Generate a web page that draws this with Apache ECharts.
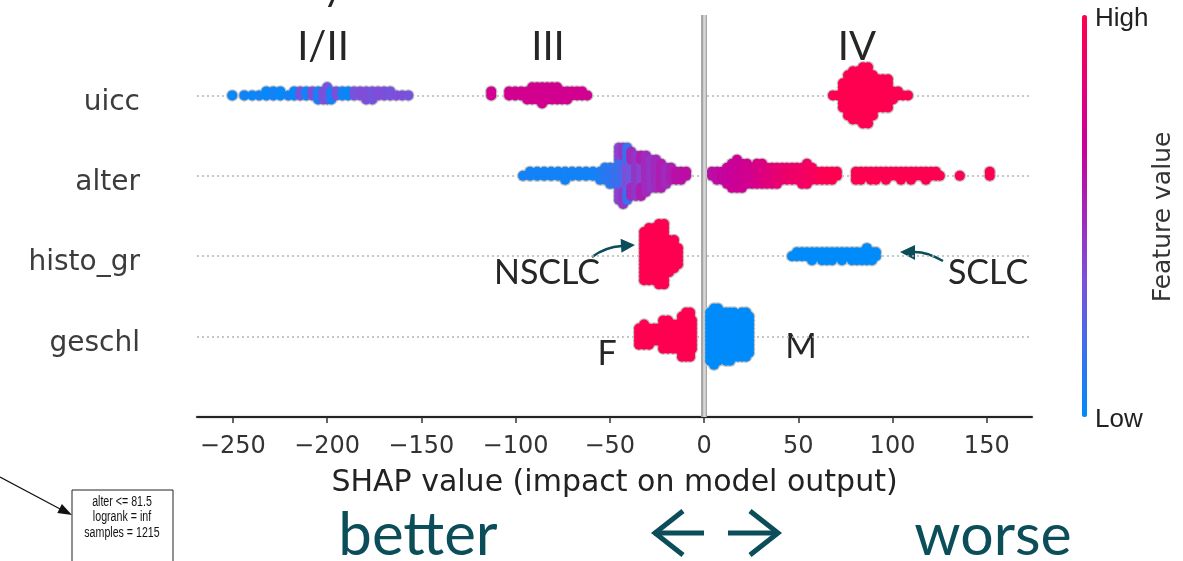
<!DOCTYPE html>
<html>
<head>
<meta charset="utf-8">
<script src="https://cdn.jsdelivr.net/npm/echarts@6/dist/echarts.min.js"></script>
<style>
html, body { margin: 0; padding: 0; background: #fff; }
#main { width: 1183px; height: 561px; }
</style>
</head>
<body>
<div id="main"></div>
<script>
// rows from bottom to top
var featureNames = ['geschl', 'histo_gr', 'alter', 'uicc'];
var tickValues = [-250, -200, -150, -100, -50, 0, 50, 100, 150];

// [shap value, points stacked at that value, feature value 0 (low) .. 1 (high)]
var uicc = [
    [-250.3, 1, 0.02], [-243.9, 1, 0.05], [-239.7, 1, 0.02], [-236.0, 1, 0.05], [-232.2, 2, 0.02],
    [-228.5, 2, 0.05], [-224.8, 2, 0.02], [-220.6, 1, 0.05], [-217.4, 2, 0.02], [-214.2, 2, 0.32],
    [-211.0, 2, 0.05], [-207.8, 2, 0.35], [-204.7, 3, 0.05], [-202.0, 3, 0.35], [-199.9, 4, 0.32],
    [-197.8, 3, 0.05], [-195.1, 2, 0.35], [-191.9, 2, 0.05], [-188.8, 2, 0.02], [-185.6, 2, 0.32],
    [-182.4, 2, 0.35], [-179.2, 3, 0.35], [-176.0, 3, 0.32], [-172.9, 2, 0.35], [-169.7, 2, 0.35],
    [-166.5, 2, 0.32], [-163.3, 1, 0.35], [-160.1, 1, 0.35], [-156.9, 1, 0.32],
    [-112.9, 2, 0.72], [-103.4, 2, 0.72], [-100.2, 2, 0.72], [-97.0, 2, 0.72], [-93.8, 3, 0.72],
    [-91.2, 4, 0.72], [-88.5, 4, 0.72], [-85.9, 5, 0.72], [-83.2, 4, 0.72], [-80.6, 4, 0.72],
    [-77.9, 4, 0.72], [-75.3, 3, 0.72], [-72.6, 3, 0.72], [-70.0, 2, 0.72], [-67.3, 2, 0.72],
    [-64.7, 2, 0.72], [-62.0, 1, 0.72],
    [68.4, 1, 1], [71.0, 1, 1], [73.7, 7, 1], [76.4, 11, 1], [79.0, 13, 1], [81.7, 13, 1],
    [84.3, 15, 1], [87.0, 15, 1], [89.6, 11, 1], [92.3, 8, 1], [94.9, 8, 1], [97.6, 8, 1],
    [100.2, 3, 1], [102.9, 2, 1], [105.5, 1, 1], [108.2, 1, 1]
];

var alter = [
    [-96.0, 1, 0.05], [-92.3, 2, 0.05], [-88.5, 2, 0.05], [-84.8, 2, 0.05], [-81.1, 2, 0.05],
    [-77.4, 2, 0.05], [-73.7, 3, 0.05], [-70.0, 2, 0.05], [-66.3, 2, 0.05], [-62.6, 2, 0.05],
    [-58.9, 2, 0.05], [-55.1, 3, 0.08], [-52.5, 4, 0.1], [-49.8, 5, 0.12], [-47.2, 5, 0.15],
    [-45.1, 8, 0.15], [-45.1, 6, 0.4], [-42.9, 8, 0.2], [-42.9, 7, 0.45], [-40.8, 7, 0.35],
    [-40.8, 7, 0.15], [-38.7, 6, 0.3], [-38.7, 6, 0.5], [-36.1, 11, 0.45], [-33.4, 6, 0.4],
    [-33.4, 5, 0.55], [-30.8, 10, 0.5], [-28.1, 8, 0.45], [-25.5, 8, 0.5], [-22.8, 7, 0.55],
    [-20.1, 5, 0.5], [-17.5, 4, 0.55], [-14.8, 3, 0.6], [-12.2, 3, 0.6], [-9.5, 2, 0.62],
    [4.2, 2, 0.6], [6.9, 3, 0.62], [9.5, 3, 0.65], [12.2, 5, 0.65], [14.8, 7, 0.68],
    [17.5, 8, 0.68], [20.1, 7, 0.7], [22.8, 6, 0.72], [25.5, 5, 0.72], [28.1, 6, 0.75],
    [30.8, 6, 0.78], [33.4, 5, 0.8], [36.1, 5, 0.82], [38.7, 5, 0.85], [41.4, 4, 0.85],
    [44.0, 4, 0.88], [46.7, 4, 0.9], [49.3, 4, 0.9], [52.0, 5, 0.92], [54.6, 6, 0.92],
    [57.3, 4, 0.95], [59.9, 3, 0.95], [62.6, 3, 1], [65.2, 3, 1], [67.9, 3, 1], [70.5, 2, 1],
    [80.6, 3, 1], [83.2, 3, 1], [85.9, 2, 1], [88.5, 3, 1], [91.2, 3, 1], [93.8, 2, 1],
    [96.5, 3, 1], [99.2, 2, 1], [101.8, 2, 1], [104.5, 3, 1], [107.1, 2, 1], [109.8, 3, 1],
    [112.4, 2, 1], [115.1, 2, 1], [117.7, 3, 1], [120.4, 2, 1], [123.0, 2, 1], [125.1, 1, 1],
    [135.7, 1, 1], [151.6, 2, 1]
];

var histoGr = [
    [-31.8, 13, 1], [-29.2, 14, 1], [-26.5, 14, 1], [-23.9, 16, 1], [-21.2, 16, 1],
    [-18.6, 9, 1], [-15.9, 8, 1], [-13.8, 5, 1],
    [46.7, 1, 0], [49.3, 2, 0], [52.0, 2, 0], [54.6, 2, 0], [57.3, 3, 0], [59.9, 2, 0],
    [62.6, 3, 0], [65.2, 3, 0], [67.9, 3, 0], [70.5, 2, 0], [73.2, 3, 0], [75.8, 2, 0],
    [78.5, 3, 0], [81.1, 3, 0], [83.8, 3, 0], [86.4, 4, 0], [89.1, 3, 0], [91.2, 2, 0]
];

var geschl = [
    [-34.5, 5, 1], [-31.8, 6, 1], [-29.2, 5, 1], [-26.5, 4, 1], [-24.4, 4, 1], [-21.7, 8, 1],
    [-19.1, 8, 1], [-16.4, 7, 1], [-14.3, 7, 1], [-11.7, 11, 1], [-9.5, 12, 1], [-7.4, 12, 1],
    [-6.4, 8, 1],
    [3.2, 13, 0], [5.3, 15, 0], [7.4, 14, 0], [9.5, 12, 0], [11.7, 13, 0], [13.8, 13, 0],
    [15.9, 12, 0], [18.0, 11, 0], [20.1, 12, 0], [22.3, 12, 0], [23.9, 10, 0]
];

var rows = [geschl, histoGr, alter, uicc];
var STEP = 0.05;
var teal = '#0b4e5a';

// beeswarm: points sharing a value alternate above / below the row line
function swarm(row, rowIndex) {
    var layers = {};
    var out = [];
    row.forEach(function (d) {
        for (var i = 0; i < d[1]; i++) {
            var k = layers[d[0]] || 0;
            layers[d[0]] = k + 1;
            var off = Math.ceil(k / 2) * (k % 2 ? 1 : -1) * STEP;
            out.push([d[0], rowIndex + off, d[2]]);
        }
    });
    return out;
}

var points = [];
rows.forEach(function (r, i) { points = points.concat(swarm(r, i)); });

function minus(v) { return v < 0 ? '\u2212' + (-v) : String(v); }

var boxFont = '14px "Liberation Sans Narrow", "Liberation Sans"';

var chart = echarts.init(document.getElementById('main'));

chart.setOption({
    animation: false,
    grid: { left: 197, right: 151, top: 15, bottom: 144 },
    xAxis: {
        type: 'value',
        min: -269,
        max: 174,
        splitLine: { show: false },
        axisLine: { onZero: false, lineStyle: { color: '#222', width: 2, shadowColor: 'rgba(0,0,0,0.35)', shadowBlur: 2 } },
        axisTick: { length: 6, customValues: tickValues, lineStyle: { color: '#333', width: 1.5 } },
        axisLabel: {
            customValues: tickValues,
            formatter: minus,
            fontFamily: 'DejaVu Sans',
            fontSize: 24,
            color: '#333',
            margin: 18
        },
        name: 'SHAP value (impact on model output)',
        nameLocation: 'middle',
        nameGap: 51,
        nameTextStyle: { fontFamily: 'DejaVu Sans', fontSize: 30, color: '#222' }
    },
    yAxis: {
        type: 'value',
        min: -1,
        max: 4,
        splitLine: { show: false },
        axisLine: { show: false },
        axisTick: { show: false },
        axisLabel: {
            customValues: [0, 1, 2, 3],
            formatter: function (v) { return featureNames[v]; },
            fontFamily: 'DejaVu Sans',
            fontSize: 28,
            color: '#3c3c3c',
            margin: 57,
            verticalAlign: 'top',
            lineHeight: 14
        }
    },
    visualMap: {
        type: 'continuous',
        min: 0,
        max: 1,
        dimension: 2,
        seriesIndex: 1,
        orient: 'vertical',
        left: 1082,
        top: 15,
        itemWidth: 5,
        itemHeight: 402,
        padding: 0,
        calculable: false,
        hoverLink: false,
        text: null,
        inRange: { color: ['#008bfb', '#7a52dc', '#c8009a', '#ff0051'] }
    },
    series: [{
        // halo under the dots
        type: 'scatter',
        data: points,
        symbolSize: 12.5,
        silent: true,
        z: 2,
        itemStyle: { color: '#c4c4c4', opacity: 1 },
        markLine: {
            silent: true,
            symbol: ['none', 'none'],
            label: { show: false },
            z: 1,
            data: [
                { yAxis: 0, lineStyle: { color: '#b5b5b5', width: 1.5, type: [2, 3] } },
                { yAxis: 1, lineStyle: { color: '#b5b5b5', width: 1.5, type: [2, 3] } },
                { yAxis: 2, lineStyle: { color: '#b5b5b5', width: 1.5, type: [2, 3] } },
                { yAxis: 3, lineStyle: { color: '#b5b5b5', width: 1.5, type: [2, 3] } },
                { xAxis: 0, lineStyle: { color: '#a6a6a6', width: 6, type: 'solid' } },
                { xAxis: 0, lineStyle: { color: '#d6d6d6', width: 2.5, type: 'solid' } }
            ]
        }
    }, {
        type: 'scatter',
        data: points,
        symbolSize: 10,
        silent: true,
        z: 3,
        itemStyle: { opacity: 1 }
    }],
    graphic: [
        { type: 'text', x: 333, y: -13, style: { text: 'y', font: '40px Lato', fill: '#262626', align: 'center', verticalAlign: 'middle' } },
        { type: 'text', x: 323, y: 47, style: { text: 'I/II', font: '40px Lato', fill: '#262626', align: 'center', verticalAlign: 'middle' } },
        { type: 'text', x: 548, y: 47, style: { text: 'III', font: '40px Lato', fill: '#262626', align: 'center', verticalAlign: 'middle' } },
        { type: 'text', x: 857, y: 47, style: { text: 'IV', font: '40px Lato', fill: '#262626', align: 'center', verticalAlign: 'middle' } },
        { type: 'text', x: 547, y: 273, style: { text: 'NSCLC', font: '34px Lato', fill: '#262626', align: 'center', verticalAlign: 'middle' } },
        { type: 'text', x: 988, y: 273, style: { text: 'SCLC', font: '34px Lato', fill: '#262626', align: 'center', verticalAlign: 'middle' } },
        { type: 'text', x: 607, y: 354, style: { text: 'F', font: '34px Lato', fill: '#262626', align: 'center', verticalAlign: 'middle' } },
        { type: 'text', x: 801, y: 347, style: { text: 'M', font: '34px Lato', fill: '#262626', align: 'center', verticalAlign: 'middle' } },

        { type: 'bezierCurve', shape: { x1: 592, y1: 257, cpx1: 605, cpy1: 247, x2: 622, y2: 246 }, style: { stroke: teal, lineWidth: 2.5, fill: null } },
        { type: 'polygon', shape: { points: [[635, 245], [620.6, 238.7], [621.4, 252.7]] }, style: { fill: teal } },
        { type: 'bezierCurve', shape: { x1: 943, y1: 261, cpx1: 926, cpy1: 251, x2: 912, y2: 252 }, style: { stroke: teal, lineWidth: 2.5, fill: null } },
        { type: 'polygon', shape: { points: [[900, 252], [915, 245], [915, 260]] }, style: { fill: teal } },

        { type: 'text', x: 1095, y: 19, style: { text: 'High', font: '26px "Liberation Sans"', fill: '#222', align: 'left', verticalAlign: 'middle' } },
        { type: 'text', x: 1095, y: 420, style: { text: 'Low', font: '26px "Liberation Sans"', fill: '#222', align: 'left', verticalAlign: 'middle' } },
        { type: 'text', x: 1163, y: 217, rotation: Math.PI / 2, style: { text: 'Feature value', font: '25px "DejaVu Sans"', fill: '#333', align: 'center', verticalAlign: 'middle' } },

        { type: 'text', x: 418, y: 536, style: { text: 'better', font: '60px Lato', fill: teal, align: 'center', verticalAlign: 'middle' } },
        { type: 'text', x: 993, y: 536, style: { text: 'worse', font: '59px Lato', fill: teal, align: 'center', verticalAlign: 'middle' } },
        { type: 'polyline', shape: { points: [[654, 533], [704, 533]] }, style: { stroke: teal, lineWidth: 5 } },
        { type: 'polyline', shape: { points: [[683, 511], [655, 533], [683, 555]] }, style: { stroke: teal, lineWidth: 5, fill: null } },
        { type: 'polyline', shape: { points: [[728, 533], [778, 533]] }, style: { stroke: teal, lineWidth: 5 } },
        { type: 'polyline', shape: { points: [[750, 511], [778, 533], [750, 555]] }, style: { stroke: teal, lineWidth: 5, fill: null } },

        { type: 'line', shape: { x1: 0, y1: 477, x2: 62, y2: 510 }, style: { stroke: '#111', lineWidth: 1.2 } },
        { type: 'polygon', shape: { points: [[72, 515], [61.9, 504.1], [57.3, 512.9]] }, style: { fill: '#111' } },
        { type: 'rect', shape: { x: 72, y: 490, width: 101, height: 80 }, style: { stroke: '#222', lineWidth: 1, fill: '#fff' } },
        { type: 'text', x: 122, y: 502, scaleX: 0.76, style: { text: 'alter <= 81.5', font: boxFont, fill: '#111', align: 'center', verticalAlign: 'middle' } },
        { type: 'text', x: 122, y: 517, scaleX: 0.76, style: { text: 'logrank = inf', font: boxFont, fill: '#111', align: 'center', verticalAlign: 'middle' } },
        { type: 'text', x: 122, y: 533, scaleX: 0.76, style: { text: 'samples = 1215', font: boxFont, fill: '#111', align: 'center', verticalAlign: 'middle' } }
    ]
});

window.onresize = chart.resize;
</script>
</body>
</html>
